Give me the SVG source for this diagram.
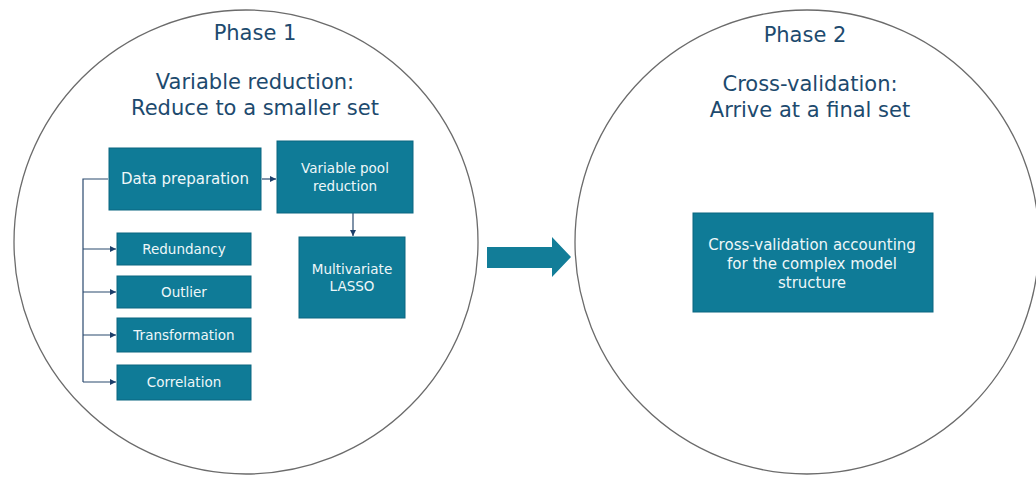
<svg xmlns="http://www.w3.org/2000/svg" width="1036" height="477" viewBox="0 0 1036 477">
<style>
.circ{fill:none;stroke:#6b6b6b;stroke-width:1.3}
.title{font-family:"DejaVu Sans",Verdana,sans-serif;font-size:21px;fill:#1d4a6e;text-anchor:middle}
.box{fill:#0f7b97;stroke:#0b6680;stroke-width:1}
.lbl{font-family:"DejaVu Sans",Verdana,sans-serif;font-size:13.5px;fill:#eef7f9;text-anchor:middle}
.conn{fill:none;stroke:#2b4a6f;stroke-width:1.2}
</style>
<defs>
<marker id="ah" viewBox="0 0 10 10" refX="10" refY="5" markerWidth="6" markerHeight="6" orient="auto" markerUnits="userSpaceOnUse">
<path d="M0,0 L10,5 L0,10 Z" fill="#1d3f6a"/>
</marker>
</defs>
<rect width="1036" height="477" fill="#ffffff"/>
<g id="phase1">
<circle class="circ" cx="246" cy="242" r="232"/>
<text class="title" x="255" y="40">Phase 1</text>
<text class="title" x="255" y="89">Variable reduction:</text>
<text class="title" x="255" y="115">Reduce to a smaller set</text>
</g>
<g id="phase2">
<circle class="circ" cx="807" cy="242" r="232"/>
<text class="title" x="805" y="42">Phase 2</text>
<text class="title" x="810" y="91">Cross-validation:</text>
<text class="title" x="810" y="117">Arrive at a final set</text>
</g>
<g id="connectors">
<path class="conn" d="M108,179 H83 V382"/>
<path class="conn" d="M83,249 H116" marker-end="url(#ah)"/>
<path class="conn" d="M83,292 H116" marker-end="url(#ah)"/>
<path class="conn" d="M83,335 H116" marker-end="url(#ah)"/>
<path class="conn" d="M83,382 H116" marker-end="url(#ah)"/>
<path class="conn" d="M262,179 H276" marker-end="url(#ah)"/>
<path class="conn" d="M353,213 V236" marker-end="url(#ah)"/>
</g>
<g id="data-preparation">
<rect class="box" x="109" y="148" width="152" height="62"/>
<text class="lbl" x="185" y="184" style="font-size:15px">Data preparation</text>
</g>
<g id="variable-pool-reduction">
<rect class="box" x="277" y="141" width="136" height="72"/>
<text class="lbl" x="345" y="173" style="font-size:13.5px">Variable pool</text>
<text class="lbl" x="345" y="191" style="font-size:13.5px">reduction</text>
</g>
<g id="multivariate-lasso">
<rect class="box" x="299" y="237" width="106" height="81"/>
<text class="lbl" x="352" y="274">Multivariate</text>
<text class="lbl" x="352" y="291">LASSO</text>
</g>
<g id="redundancy">
<rect class="box" x="117" y="233" width="134" height="32"/>
<text class="lbl" x="184" y="254">Redundancy</text>
</g>
<g id="outlier">
<rect class="box" x="117" y="276" width="134" height="32"/>
<text class="lbl" x="184" y="297">Outlier</text>
</g>
<g id="transformation">
<rect class="box" x="117" y="318" width="134" height="34"/>
<text class="lbl" x="184" y="340">Transformation</text>
</g>
<g id="correlation">
<rect class="box" x="117" y="365" width="134" height="35"/>
<text class="lbl" x="184" y="387">Correlation</text>
</g>
<g id="big-arrow">
<path d="M487,247 H552 V237 L571,257 L552,277 V268 H487 Z" fill="#127d98"/>
</g>
<g id="cross-validation">
<rect class="box" x="693" y="213" width="240" height="99"/>
<text class="lbl" x="812" y="250" style="font-size:15px">Cross-validation accounting</text>
<text class="lbl" x="812" y="269" style="font-size:15px">for the complex model</text>
<text class="lbl" x="812" y="288" style="font-size:15px">structure</text>
</g>
</svg>
